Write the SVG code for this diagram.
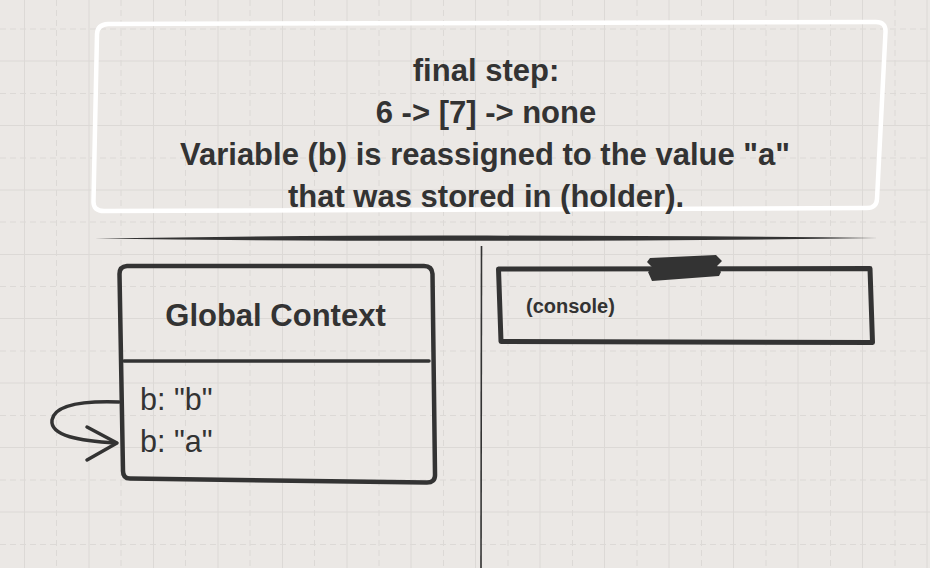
<svg xmlns="http://www.w3.org/2000/svg" width="930" height="568" viewBox="0 0 930 568">
  <defs>
    <style>
      .grid-solid { stroke: #dcd9d6; stroke-width: 1; fill: none; }
      .grid-dash { stroke: #dcd9d6; stroke-width: 1; fill: none; stroke-dasharray: 6 4; }
      .ink { stroke: #333333; fill: none; stroke-linecap: round; stroke-linejoin: round; }
      .t { font-family: "Liberation Sans", Arial, Helvetica, sans-serif; fill: #333333; }
      .bold { font-weight: bold; }
    </style>
  </defs>

  <rect x="0" y="0" width="930" height="568" fill="#ebe8e5"/>

  <g id="grid">
    <path class="grid-solid" d="M24.5,0V568 M89,0V568 M153.5,0V568 M218,0V568 M282.5,0V568 M347,0V568 M411,0V568 M475.5,0V568 M540,0V568 M604.5,0V568 M669,0V568 M733.5,0V568 M798,0V568 M862.5,0V568 M927,0V568"/>
    <path class="grid-dash" d="M56.5,0V568 M121,0V568 M185.5,0V568 M250,0V568 M314.5,0V568 M379,0V568 M443.5,0V568 M508,0V568 M572.5,0V568 M637,0V568 M701.5,0V568 M766,0V568 M830.5,0V568 M895,0V568"/>
    <path class="grid-solid" d="M0,61H930 M0,125.5H930 M0,190H930 M0,254.5H930 M0,318.5H930 M0,383H930 M0,447.5H930 M0,512H930"/>
    <path class="grid-dash" d="M0,29H930 M0,93.5H930 M0,158H930 M0,222H930 M0,286.5H930 M0,351H930 M0,415.5H930 M0,480H930 M0,544.5H930"/>
  </g>

  <g id="title-note">
    <path d="M108,24 L876,22 Q886,22 885.5,32 L877,199 Q876.5,208 867,208 L104,211 Q93,211 93.5,201 L97,34 Q97.5,24.5 108,24 Z" fill="none" stroke="#ffffff" stroke-width="4.5" stroke-linejoin="round"/>
    <text class="t bold" font-size="31" text-anchor="middle" x="486" y="81">final step:</text>
    <text class="t bold" font-size="31" text-anchor="middle" x="486" y="123">6 -&gt; [7] -&gt; none</text>
    <text class="t bold" font-size="31" text-anchor="middle" x="485" y="165">Variable (b) is reassigned to the value "a"</text>
    <text class="t bold" font-size="31" text-anchor="middle" x="486" y="207">that was stored in (holder).</text>
  </g>

  <g id="divider">
    <path d="M95,238.5 Q300,235.2 487,235.6 Q700,235.8 878,238 Q700,240.6 487,240.8 Q300,241.2 95,238.5 Z" fill="#333333"/>
    <path d="M481.5,246 L481,568" stroke="#333333" stroke-width="1.6" fill="none"/>
  </g>

  <g id="global-context">
    <path class="ink" stroke-width="4.5" d="M127,266 L424,266 Q432,266 432.5,274 L435,474 Q435.5,483 426,482.5 L130,478.5 Q123,478.5 123,471 L119.5,274 Q119.5,266.5 127,266 Z"/>
    <path class="ink" stroke-width="3.5" d="M124,361 L429,361"/>
    <text class="t bold" font-size="31" text-anchor="middle" x="275.5" y="326">Global Context</text>
    <text class="t" font-size="30.5" x="140" y="410">b: "b"</text>
    <text class="t" font-size="30.5" x="140" y="452">b: "a"</text>
  </g>

  <g id="console">
    <path class="ink" stroke-width="5" stroke-linejoin="miter" stroke-linecap="butt" d="M498.5,269 L870,268.5 L872.5,342.5 L501,341.5 Z"/>
    <path d="M650,258 L716,255 L722,261 L717,266 L721,272 L719,276 L652,281 L648,272 L653,268 L647,262 Z" fill="#333333"/>
    <text class="t bold" font-size="20" x="526" y="313">(console)</text>
  </g>

  <g id="connectors">
    <path class="ink" stroke-width="3.5" d="M119,402 C90,401 55,403 52,420 C50,436 80,441 116,443"/>
    <path class="ink" stroke-width="3.5" d="M87,427 L117,443 L87,460"/>
  </g>
</svg>
